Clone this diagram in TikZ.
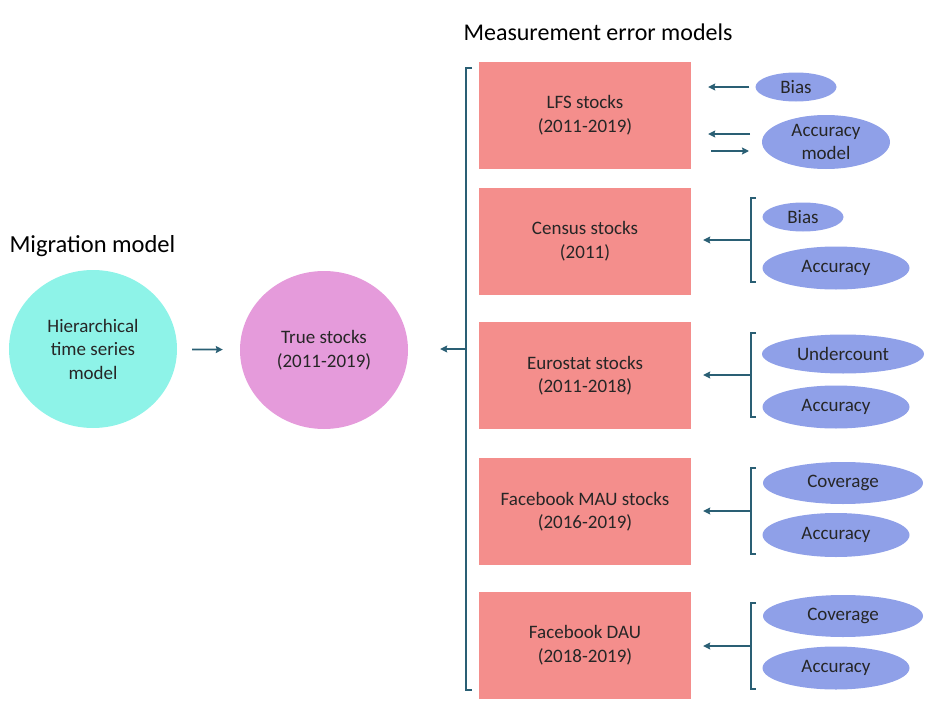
\documentclass[tikz,border=0pt]{standalone}
\usepackage{fontspec}
\setmainfont{Carlito}
\usetikzlibrary{arrows.meta}
\usetikzlibrary{shapes}

\definecolor{boxred}{HTML}{F48E8C}
\definecolor{circcyan}{HTML}{8EF3E8}
\definecolor{circpink}{HTML}{E59BDB}
\definecolor{ellblue}{HTML}{8FA0E8}
\definecolor{linkteal}{HTML}{2A5F74}

\begin{document}
\begin{tikzpicture}[x = 1pt, y = -1pt, font=\fontsize{19}{23.5}\selectfont]
	\tikzstyle{stockStyle} = [shape = rectangle, fill = boxred, minimum width = 212pt, minimum height = 107pt, inner sep = 0pt, align = center, text = black!85]
	\tikzstyle{circleStyle} = [shape = ellipse, minimum width = 168pt, minimum height = 158pt, inner sep = 0pt, align = center, text = black!85]
	\tikzstyle{paramStyle} = [shape = ellipse, fill = ellblue, inner sep = 0pt, align = center, text = black!85]
	\tikzstyle{linkStyle} = [draw = linkteal, line width = 1.8pt]
	\tikzstyle{arrowStyle} = [linkStyle, -{Stealth[length = 7pt, width = 7pt, inset = 1pt]}]
	\useasboundingbox (0,0) rectangle (938,720);
	% titles
	\node[anchor = west, font = \fontsize{24}{28}\selectfont] (tmeas) at (460,32) {Measurement error models};
	\node[anchor = west, font = \fontsize{24.5}{28}\selectfont] (tmig) at (6,246) {Migration model};
	% migration model
	\node[circleStyle, fill = circcyan] (hts) at (93,349) {Hierarchical\\time series\\model};
	\node[circleStyle, fill = circpink] (true) at (324,350) {True stocks\\(2011-2019)};
	\draw[arrowStyle, shorten <= 15pt, shorten >= 17pt] (hts) -- (true);
	% data sources
	\node[stockStyle] (lfs) at (585,115) {LFS stocks\\(2011-2019)};
	\node[stockStyle] (census) at (585,241) {Census stocks\\(2011)};
	\node[stockStyle] (euro) at (585,375.5) {Eurostat stocks\\(2011-2018)};
	\node[stockStyle] (mau) at (585,511.5) {Facebook MAU stocks\\(2016-2019)};
	\node[stockStyle] (dau) at (585,645) {Facebook DAU\\(2018-2019)};
	% big bracket
	\coordinate (bigtop) at (466,68);
	\coordinate (bigbot) at (466,690);
	\coordinate (bigmid) at (466,349);
	\draw[linkStyle] (472,68) -- (bigtop) -- (bigbot) -- (472,690);
	\draw[arrowStyle, shorten >= 32pt] (bigmid) -- (true.east |- bigmid);
	% LFS parameters
	\node[paramStyle, minimum width = 81pt, minimum height = 29pt] (lfsbias) at (796,87) {Bias};
	\node[paramStyle, minimum width = 128pt, minimum height = 54pt] (lfsacc) at (826,142) {Accuracy\\model};
	\coordinate (la) at (750,134);
	\coordinate (lb) at (749,151);
	\draw[arrowStyle, shorten <= 6pt, shorten >= 17pt] (lfsbias.west) -- (lfs.east |- lfsbias.west);
	\draw[arrowStyle, shorten >= 17pt] (la) -- (lfs.east |- la);
	\draw[arrowStyle, shorten <= 20pt] (lfs.east |- lb) -- (lb);
	% Census parameters
	\node[paramStyle, minimum width = 81pt, minimum height = 29pt] (cenbias) at (803,217) {Bias};
	\node[paramStyle, minimum width = 147pt, minimum height = 43pt] (cenacc) at (836,268) {Accuracy};
	% Eurostat parameters
	\node[paramStyle, minimum width = 162pt, minimum height = 39pt] (euround) at (843,354) {Undercount};
	\node[paramStyle, minimum width = 147pt, minimum height = 43pt] (euroacc) at (836,407) {Accuracy};
	% Facebook MAU parameters
	\node[paramStyle, minimum width = 160pt, minimum height = 42pt] (maucov) at (843,483) {Coverage};
	\node[paramStyle, minimum width = 147pt, minimum height = 44pt] (mauacc) at (836,535) {Accuracy};
	% Facebook DAU parameters
	\node[paramStyle, minimum width = 160pt, minimum height = 42pt] (daucov) at (843,616) {Coverage};
	\node[paramStyle, minimum width = 147pt, minimum height = 43pt] (dauacc) at (836,668) {Accuracy};
	% small brackets
	\foreach \src/\top/\bot in {census/198/282, euro/333/417, mau/468/554, dau/603/689} {
		\draw[linkStyle] (756,\top) -- (751,\top) -- (751,\bot) -- (756,\bot);
		\coordinate (\src br) at (751,{(\top+\bot)/2});
		\draw[arrowStyle, shorten >= 12pt] (\src br) -- (\src.east |- \src br);
	}
\end{tikzpicture}
\end{document}
